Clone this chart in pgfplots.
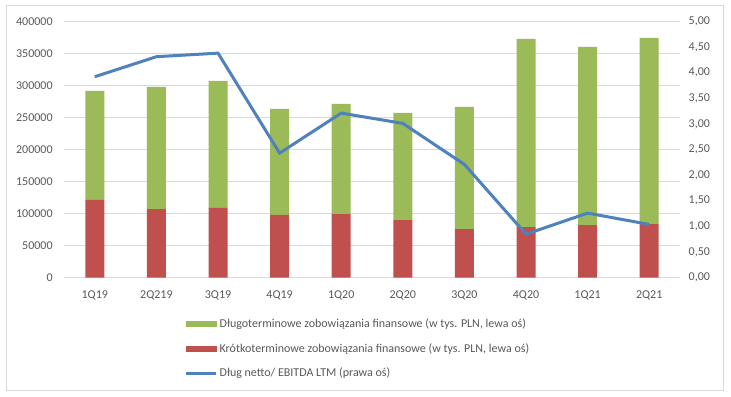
\documentclass[border=0pt]{standalone}
\usepackage{pgfplots}
\pgfplotsset{compat=1.18}
\usepackage{fontspec}
\setmainfont{Carlito}
\definecolor{cgreen}{HTML}{9BBB59}
\definecolor{cred}{HTML}{C0504D}
\definecolor{cblue}{HTML}{4F81BD}
\definecolor{gridgray}{HTML}{D9D9D9}
\definecolor{labelgray}{HTML}{595959}
\begin{document}
\begin{tikzpicture}
\useasboundingbox (0,0) rectangle (548.25pt,297pt);
\fill[white] (0,0) rectangle (548.25pt,297pt);
\draw[gridgray, line width=0.75pt] (4.5pt,4.5pt) rectangle (542.25pt,292.5pt);
\begin{axis}[
  at={(48pt,88.7pt)}, anchor=south west,
  scale only axis, width=462pt, height=192.3pt,
  xmin=-0.5, xmax=9.5, ymin=0, ymax=400000,
  ytick={0,50000,...,400000},
  ybar stacked, bar width=14.25pt,
  xtick={0,...,9},
  xticklabels={1Q19,2Q219,3Q19,4Q19,1Q20,2Q20,3Q20,4Q20,1Q21,2Q21},
  axis line style={draw=none},
  major tick style={draw=none},
  ymajorgrids, grid style={gridgray, line width=0.75pt},
  tick label style={font=\fontsize{9}{11}\selectfont, text=labelgray},
  /pgf/number format/assume math mode=true,
  /pgf/number format/fixed, /pgf/number format/1000 sep={},
  scaled y ticks=false,
  yticklabel style={xshift=-5pt},
  xticklabel style={yshift=-6pt},
]
\addplot[fill=cred, draw=none] coordinates {(0,121300) (1,107200) (2,108800) (3,97900) (4,99400) (5,90000) (6,76000) (7,79100) (8,82200) (9,83800)};
\addplot[fill=cgreen, draw=none] coordinates {(0,170100) (1,190400) (2,198200) (3,165400) (4,171700) (5,167000) (6,190400) (7,293400) (8,277800) (9,290300)};
\end{axis}
\begin{axis}[
  at={(48pt,88.7pt)}, anchor=south west,
  scale only axis, width=462pt, height=192.3pt,
  xmin=-0.5, xmax=9.5, ymin=0, ymax=5,
  axis y line*=right, hide x axis,
  ytick={0,0.5,...,5},
  axis line style={draw=none},
  major tick style={draw=none},
  tick label style={font=\fontsize{9}{11}\selectfont, text=labelgray},
  /pgf/number format/assume math mode=true,
  yticklabel style={/pgf/number format/fixed, /pgf/number format/fixed zerofill, /pgf/number format/precision=2, /pgf/number format/use comma, xshift=3pt},
  legend cell align=left,
  legend style={at={(0.19,-0.1375)}, anchor=north west, draw=none, fill=none,
    font=\fontsize{9}{11}\selectfont, text=labelgray, row sep=6.5pt},
]
\addlegendimage{legend image code/.code={\fill[cgreen] (0pt,-1.75pt) rectangle (22pt,1.75pt);}}
\addlegendentry{Długoterminowe zobowiązania finansowe (w tys. PLN, lewa oś)}
\addlegendimage{legend image code/.code={\fill[cred] (0pt,-1.75pt) rectangle (22pt,1.75pt);}}
\addlegendentry{Krótkoterminowe zobowiązania finansowe (w tys. PLN, lewa oś)}
\addplot[cblue, line width=2.25pt, mark=none, legend image code/.code={\draw[cblue, line width=1.75pt] (0pt,0pt) -- (22pt,0pt);}] coordinates {(0,3.92) (1,4.31) (2,4.38) (3,2.43) (4,3.21) (5,3.01) (6,2.21) (7,0.85) (8,1.26) (9,1.04)};
\addlegendentry{Dług netto/ EBITDA LTM (prawa oś)}
\end{axis}
\end{tikzpicture}
\end{document}
